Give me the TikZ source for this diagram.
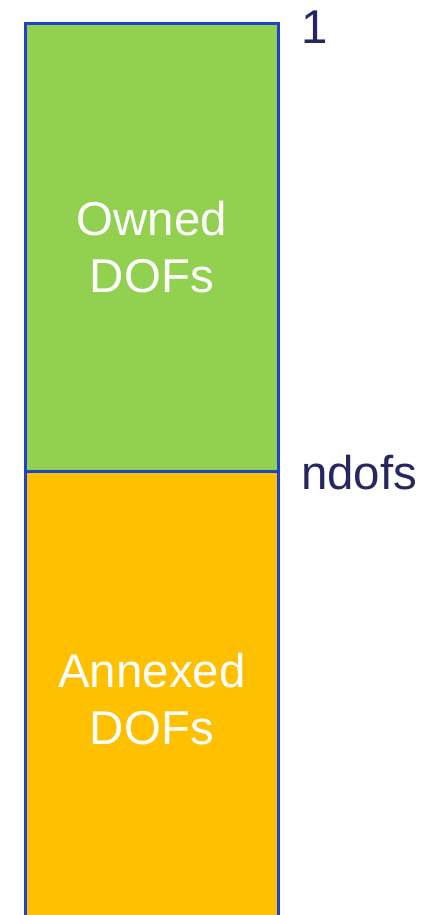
\documentclass[tikz,border=0pt]{standalone}
\usepackage{fontspec}
\setmainfont{Liberation Sans}
\usetikzlibrary{positioning}
\definecolor{dofgreen}{RGB}{146,208,80}
\definecolor{dofyellow}{RGB}{255,192,0}
\definecolor{dofblue}{RGB}{28,68,196}
\definecolor{dofnavy}{RGB}{38,38,96}

\begin{document}
\begin{tikzpicture}[x=0.02cm, y=-0.02cm, every node/.style={font=\fontsize{27}{32.5}\selectfont}]
  \tikzset{
    block/.style={draw=dofblue, line width=1.6pt, minimum width=5.06cm, text=white, align=center, inner sep=0pt},
    mark label/.style={text=dofnavy, anchor=west, inner sep=0pt}
  }
  \useasboundingbox (0,0) rectangle (447,915);
  \clip (0,0) rectangle (447,915);

  \node[block, fill=dofgreen,  minimum height=8.96cm, anchor=north west] (owned)   at (24,22)  {Owned\\DOFs};
  \node[block, fill=dofyellow, minimum height=9.1cm,  anchor=north west] (annexed) at (24,470) {Annexed\\DOFs};

  \node[mark label, right=0.42cm of owned.north east, yshift=-0.1cm] (first) {1};
  \node[mark label, right=0.42cm of owned.south east] (last) {ndofs};
\end{tikzpicture}
\end{document}
